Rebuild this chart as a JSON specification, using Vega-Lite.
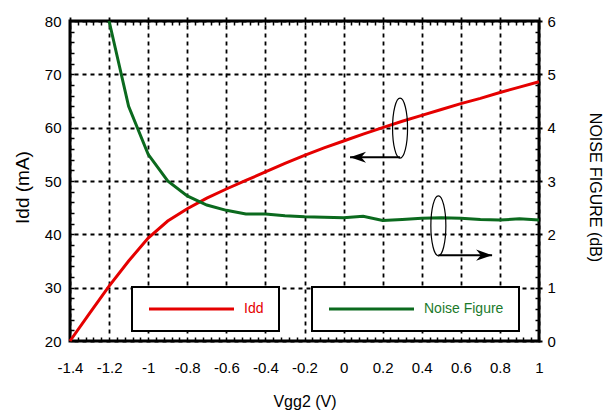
{
  "$schema": "https://vega.github.io/schema/vega-lite/v6.json",
  "width": 469,
  "height": 320,
  "autosize": "none",
  "padding": {"left": 70, "top": 21, "right": 72, "bottom": 69},
  "config": {
    "view": {"stroke": "black", "strokeWidth": 3},
    "font": "Liberation Sans",
    "axis": {
      "domain": false,
      "offset": -4,
      "ticks": true,
      "tickColor": "black",
      "tickWidth": 1.5,
      "tickSize": 4,
      "tickCount": 100,
      "labelColor": "black",
      "labelFontSize": 15,
      "labelFont": "Liberation Sans",
      "titleFont": "Liberation Sans",
      "titleFontWeight": "normal",
      "titleColor": "black",
      "gridColor": "black",
      "gridDash": [4, 4],
      "gridWidth": 1.8
    },
    "legend": {
      "strokeWidth": 2
    }
  },
  "datasets": {
    "idd": [
      {"vgg2": -1.4, "idd": 20.0},
      {"vgg2": -1.3, "idd": 25.2},
      {"vgg2": -1.2, "idd": 30.3},
      {"vgg2": -1.1, "idd": 35.0},
      {"vgg2": -1.0, "idd": 39.3},
      {"vgg2": -0.9, "idd": 42.5},
      {"vgg2": -0.8, "idd": 44.8},
      {"vgg2": -0.7, "idd": 46.8},
      {"vgg2": -0.6, "idd": 48.5},
      {"vgg2": -0.5, "idd": 50.1},
      {"vgg2": -0.4, "idd": 51.7},
      {"vgg2": -0.3, "idd": 53.3},
      {"vgg2": -0.2, "idd": 54.8},
      {"vgg2": -0.1, "idd": 56.2},
      {"vgg2": 0.0, "idd": 57.5},
      {"vgg2": 0.1, "idd": 58.8},
      {"vgg2": 0.2, "idd": 60.0},
      {"vgg2": 0.3, "idd": 61.2},
      {"vgg2": 0.4, "idd": 62.3},
      {"vgg2": 0.5, "idd": 63.4},
      {"vgg2": 0.6, "idd": 64.5},
      {"vgg2": 0.7, "idd": 65.5},
      {"vgg2": 0.8, "idd": 66.6},
      {"vgg2": 0.9, "idd": 67.6},
      {"vgg2": 1.0, "idd": 68.6}
    ],
    "nf": [
      {"vgg2": -1.2, "nf": 6.0},
      {"vgg2": -1.1, "nf": 4.4},
      {"vgg2": -1.0, "nf": 3.5},
      {"vgg2": -0.9, "nf": 3.0},
      {"vgg2": -0.8, "nf": 2.72},
      {"vgg2": -0.7, "nf": 2.55},
      {"vgg2": -0.6, "nf": 2.45},
      {"vgg2": -0.5, "nf": 2.38},
      {"vgg2": -0.4, "nf": 2.38},
      {"vgg2": -0.3, "nf": 2.35},
      {"vgg2": -0.2, "nf": 2.33},
      {"vgg2": -0.1, "nf": 2.32},
      {"vgg2": 0.0, "nf": 2.31},
      {"vgg2": 0.1, "nf": 2.34},
      {"vgg2": 0.2, "nf": 2.26},
      {"vgg2": 0.3, "nf": 2.28},
      {"vgg2": 0.4, "nf": 2.30},
      {"vgg2": 0.5, "nf": 2.31},
      {"vgg2": 0.6, "nf": 2.30},
      {"vgg2": 0.7, "nf": 2.28},
      {"vgg2": 0.8, "nf": 2.27},
      {"vgg2": 0.9, "nf": 2.29},
      {"vgg2": 1.0, "nf": 2.27}
    ],
    "note_idd": [
      {"vgg2": 0.289, "vgg2_end": 0.033, "idd_center": 59.9, "idd": 54.45}
    ],
    "note_nf": [
      {"vgg2": 0.485, "vgg2_end": 0.76, "nf_center": 2.16, "nf": 1.61}
    ]
  },
  "layer": [
    {
      "layer": [
        {
          "data": {"name": "idd"},
          "mark": {"type": "line", "strokeWidth": 3},
          "encoding": {
            "x": {
              "field": "vgg2",
              "type": "quantitative",
              "scale": {"domain": [-1.4, 1], "nice": false, "zero": false},
              "axis": {
                "orient": "bottom",
                "title": "Vgg2 (V)",
                "titleFontSize": 16,
                "titleBaseline": "alphabetic",
                "titleY": 69,
                "values": [-1.4,-1.36,-1.32,-1.28,-1.24,-1.2,-1.16,-1.12,-1.08,-1.04,-1,-0.96,-0.92,-0.88,-0.84,-0.8,-0.76,-0.72,-0.68,-0.64,-0.6,-0.56,-0.52,-0.48,-0.44,-0.4,-0.36,-0.32,-0.28,-0.24,-0.2,-0.16,-0.12,-0.08,-0.04,0,0.04,0.08,0.12,0.16,0.2,0.24,0.28,0.32,0.36,0.4,0.44,0.48,0.52,0.56,0.6,0.64,0.68,0.72,0.76,0.8,0.84,0.88,0.92,0.96,1],
                "labelExpr": "abs(datum.value*5 - round(datum.value*5)) < 0.001 ? toString(round(datum.value*10)/10) : ''",
                "labelPadding": 19,
                "labelFlush": false,
                "labelOverlap": false,
                "grid": true,
                "gridOpacity": {"condition": {"test": "abs(datum.value*5 - round(datum.value*5)) < 0.001", "value": 1}, "value": 0}
              }
            },
            "y": {
              "field": "idd",
              "type": "quantitative",
              "scale": {"domain": [20, 80], "nice": false, "zero": false},
              "axis": {
                "orient": "left",
                "title": "Idd (mA)",
                "titleFontSize": 19,
                "titleAngle": -90,
                "titleBaseline": "middle",
                "titleAlign": "center",
                "titleX": -52,
                "titleY": 166,
                "values": [20,22,24,26,28,30,32,34,36,38,40,42,44,46,48,50,52,54,56,58,60,62,64,66,68,70,72,74,76,78,80],
                "labelExpr": "datum.value % 10 == 0 ? toString(datum.value) : ''",
                "labelPadding": 9,
                "labelFlush": false,
                "labelOverlap": false,
                "grid": true,
                "gridOpacity": {"condition": {"test": "datum.value % 10 == 0", "value": 1}, "value": 0}
              }
            },
            "color": {
              "datum": "Idd",
              "type": "nominal",
              "scale": {"range": ["#e50000"]},
              "legend": {
                "title": null,
                "orient": "none",
                "legendX": 62,
                "legendY": 266,
                "symbolType": "M-1.667,0H26.667",
                "symbolSize": 36,
                "symbolStrokeWidth": 3,
                "labelColor": "#e50000",
                "labelFontSize": 14,
                "labelFont": "Liberation Sans",
                "labelOffset": 83,
                "padding": 15,
                "fillColor": "white",
                "strokeColor": "black",
                "cornerRadius": 0
              }
            }
          }
        },
        {
          "data": {"name": "note_idd"},
          "mark": {"type": "point", "shape": "M0,-1A0.25,1,0,1,1,0,1A0.25,1,0,1,1,0,-1Z", "size": 3600, "filled": false, "stroke": "black", "strokeWidth": 1.2, "opacity": 1},
          "encoding": {
            "x": {"field": "vgg2", "type": "quantitative"},
            "y": {"field": "idd_center", "type": "quantitative"}
          }
        },
        {
          "data": {"name": "note_idd"},
          "mark": {"type": "rule", "strokeWidth": 2, "color": "black"},
          "encoding": {
            "x": {"field": "vgg2", "type": "quantitative"},
            "x2": {"field": "vgg2_end"},
            "y": {"field": "idd", "type": "quantitative"}
          }
        },
        {
          "data": {"name": "note_idd"},
          "mark": {"type": "point", "shape": "M0,0L2,-0.7L1.4,0L2,0.7Z", "size": 256, "filled": true, "color": "black", "opacity": 1},
          "encoding": {
            "x": {"field": "vgg2_end", "type": "quantitative"},
            "y": {"field": "idd", "type": "quantitative"}
          }
        }
      ]
    },
    {
      "layer": [
        {
          "data": {"name": "nf"},
          "mark": {"type": "line", "strokeWidth": 3},
          "encoding": {
            "x": {
              "field": "vgg2",
              "type": "quantitative",
              "scale": {"domain": [-1.4, 1], "nice": false, "zero": false},
              "axis": {
                "orient": "top",
                "title": null,
                "labels": false,
                "grid": false,
                "values": [-1.4,-1.36,-1.32,-1.28,-1.24,-1.2,-1.16,-1.12,-1.08,-1.04,-1,-0.96,-0.92,-0.88,-0.84,-0.8,-0.76,-0.72,-0.68,-0.64,-0.6,-0.56,-0.52,-0.48,-0.44,-0.4,-0.36,-0.32,-0.28,-0.24,-0.2,-0.16,-0.12,-0.08,-0.04,0,0.04,0.08,0.12,0.16,0.2,0.24,0.28,0.32,0.36,0.4,0.44,0.48,0.52,0.56,0.6,0.64,0.68,0.72,0.76,0.8,0.84,0.88,0.92,0.96,1]
              }
            },
            "y": {
              "field": "nf",
              "type": "quantitative",
              "scale": {"domain": [0, 6], "nice": false, "zero": false},
              "axis": {
                "orient": "right",
                "title": "NOISE FIGURE (dB)",
                "titleFontSize": 16,
                "titleAngle": 90,
                "titleBaseline": "middle",
                "titleAlign": "center",
                "titleX": 59,
                "titleY": 166,
                "values": [0,0.2,0.4,0.6,0.8,1,1.2,1.4,1.6,1.8,2,2.2,2.4,2.6,2.8,3,3.2,3.4,3.6,3.8,4,4.2,4.4,4.6,4.8,5,5.2,5.4,5.6,5.8,6],
                "labelExpr": "abs(datum.value - round(datum.value)) < 0.001 ? toString(round(datum.value)) : ''",
                "labelPadding": 8,
                "labelFlush": false,
                "labelOverlap": false,
                "grid": false
              }
            },
            "color": {
              "datum": "Noise Figure",
              "type": "nominal",
              "scale": {"range": ["#0b6a1e"]},
              "legend": {
                "title": null,
                "orient": "none",
                "legendX": 242,
                "legendY": 266,
                "symbolType": "M-1.667,0H26.667",
                "symbolSize": 36,
                "symbolStrokeWidth": 3,
                "labelColor": "#1b7a2b",
                "labelFontSize": 14,
                "labelFont": "Liberation Sans",
                "labelOffset": 83,
                "padding": 15,
                "fillColor": "white",
                "strokeColor": "black",
                "cornerRadius": 0
              }
            }
          }
        },
        {
          "data": {"name": "note_nf"},
          "mark": {"type": "point", "shape": "M0,-1A0.25,1,0,1,1,0,1A0.25,1,0,1,1,0,-1Z", "size": 3600, "filled": false, "stroke": "black", "strokeWidth": 1.2, "opacity": 1},
          "encoding": {
            "x": {"field": "vgg2", "type": "quantitative"},
            "y": {"field": "nf_center", "type": "quantitative"}
          }
        },
        {
          "data": {"name": "note_nf"},
          "mark": {"type": "rule", "strokeWidth": 2, "color": "black"},
          "encoding": {
            "x": {"field": "vgg2", "type": "quantitative"},
            "x2": {"field": "vgg2_end"},
            "y": {"field": "nf", "type": "quantitative"}
          }
        },
        {
          "data": {"name": "note_nf"},
          "mark": {"type": "point", "shape": "M0,0L-2,-0.7L-1.4,0L-2,0.7Z", "size": 256, "filled": true, "color": "black", "opacity": 1},
          "encoding": {
            "x": {"field": "vgg2_end", "type": "quantitative"},
            "y": {"field": "nf", "type": "quantitative"}
          }
        }
      ]
    }
  ],
  "resolve": {
    "scale": {"x": "independent", "y": "independent", "color": "independent"},
    "legend": {"color": "independent"}
  }
}
